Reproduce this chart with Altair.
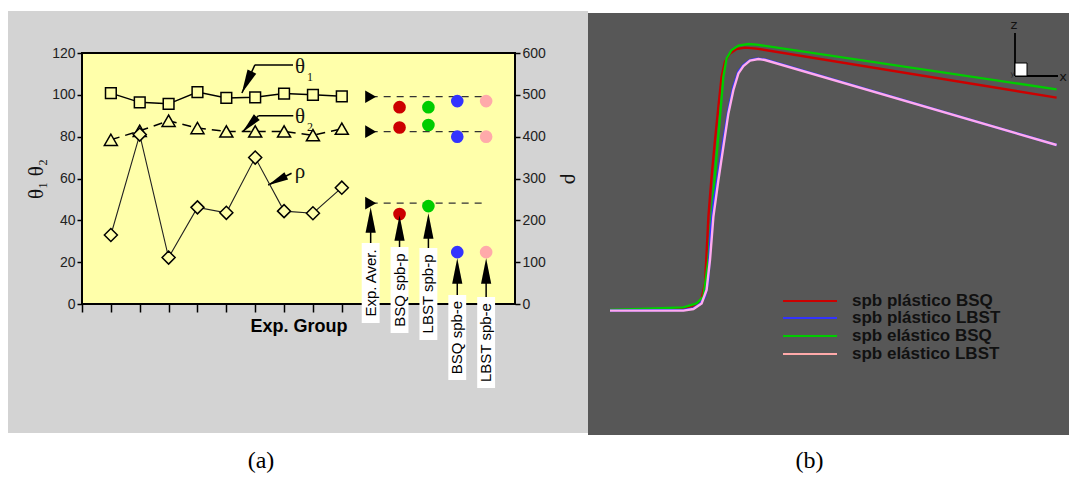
import altair as alt
import pandas as pd

# ---------------- panel (a) data ----------------
groups = [1, 2, 3, 4, 5, 6, 7, 8, 9]
theta1 = [100.8, 96.4, 95.7, 101.3, 98.5, 98.8, 100.6, 100.0, 99.3]
theta2 = [78.5, 82.8, 87.6, 84.1, 82.5, 82.5, 82.5, 80.7, 83.8]
rho = [165, 405, 111, 231, 218, 350, 222, 217, 278]

cases = ["Exp. Aver.", "BSQ spb-p", "LBST spb-p", "BSQ spb-e", "LBST spb-e"]
case_pos = [10, 11, 12, 13, 14]
case_theta1 = [99.1, 94.1, 94.1, 97.0, 97.0]
case_theta2 = [82.4, 84.4, 85.6, 80.0, 80.0]
case_rho = [241, 215, 234, 124, 124]
case_colors = ["black", "#cc0000", "#00cc00", "#3333ff", "#ffaaaa"]

theta_ticks = [0, 20, 40, 60, 80, 100, 120]
rho_ticks = [0, 100, 200, 300, 400, 500, 600]
group_ticks = [0, 1, 2, 3, 4, 5, 6, 7, 8, 9]

# ---------------- panel (b) data ----------------
series_names = ["spb plástico BSQ", "spb plástico LBST", "spb elástico BSQ", "spb elástico LBST"]
series_colors = ["#cc0000", "#3333ff", "#00cc00", "#ffaaee"]
legend_colors = ["#cc0000", "#3333ff", "#00cc00", "#ffaaaa"]
red_x = [0, 36.7, 40, 43.3, 45.8, 47.5, 48.3, 49.2, 50.8, 52.5, 54.2, 55.8, 57.5, 60, 63.3, 67.5, 73.3, 223.3]
red_z = [0.2, 1.3, 2.2, 3.5, 6.3, 13.8, 28.8, 47.2, 67.2, 85.5, 102.2, 117.2, 124.7, 128.8, 131, 131.7, 131.2, 106.7]
blue_x = [0, 36.7, 41.7, 45, 47.5, 49.2, 50.3, 52, 54.2, 56.7, 59.2, 61.7, 64.2, 66.7, 70, 73.3, 77.5, 223.3]
blue_z = [0.2, 0.5, 1.3, 3.5, 7.2, 15.5, 38.8, 55.5, 68.8, 85.5, 100.5, 112.2, 119.7, 123, 125.5, 126.2, 125.8, 83]
green_x = [0, 36.7, 43.3, 46.7, 49.2, 50.8, 52.5, 55, 56.7, 58.3, 60.8, 64.2, 69.2, 73.3, 223.3]
green_z = [0.5, 1.8, 3.8, 7.2, 25.5, 47.2, 68.8, 97.2, 117.2, 126.3, 130.5, 132.7, 133.5, 133.2, 110.8]
pink_x = [0, 36.7, 41.7, 45.8, 48.3, 50, 51.7, 54.2, 56.7, 59.2, 61.7, 64.2, 66.7, 70, 74.2, 77.5, 223.3]
pink_z = [0.2, 0.2, 1, 3.8, 10.5, 25.5, 47.2, 65.5, 82.2, 98.8, 110.5, 118.8, 122.5, 125.2, 126, 125.5, 83]

# ---------------- annotation geometry (data units) ----------------
dash_end = 14.05
head_center_rho = [200.8, 181.6, 186.4, 79, 79]
box_top = [145.8, 136.3, 133.9, 21.5, 16.7]
box_bottom = [-45.4, -69.3, -86.0, -181.7, -200.8]
box_half = 0.31

SANS = "Liberation Sans"
SERIF = "Liberation Serif"
YEL = "#ffffaa"
ARROW = "M0,-1L0.4,1L-0.4,1Z"

xs = alt.Scale(domain=[0, 15], nice=False, zero=False)
ts = alt.Scale(domain=[0, 120], nice=False, zero=False)
rs = alt.Scale(domain=[0, 600], nice=False, zero=False)

x_axis = alt.Axis(values=group_ticks, labels=False, tickSize=8, tickWidth=1.5, tickColor="black",
                  domain=False, grid=False, title="Exp. Group", titleFont=SANS, titleFontSize=18,
                  titleFontWeight="bold", titleColor="black", titlePadding=5, zindex=1)
t_axis = alt.Axis(orient="left", values=theta_ticks, tickSize=5, tickWidth=1.5, tickColor="black",
                  domain=False, grid=False, labelFont=SANS, labelFontSize=14, labelColor="#222",
                  labelPadding=2, title="θ₁ θ₂", titleFont=SERIF, titleFontSize=21,
                  titleFontWeight="normal", titleColor="#111", titlePadding=5, zindex=1)
r_axis = alt.Axis(orient="right", values=rho_ticks, tickSize=5, tickWidth=1.5, tickColor="black",
                  domain=False, grid=False, labelFont=SANS, labelFontSize=14, labelColor="#222",
                  labelPadding=2, title="ρ", titleFont=SERIF, titleFontSize=22,
                  titleFontWeight="normal", titleColor="#111", titlePadding=14, zindex=1)


def X(f):
    return alt.X(f, type="quantitative", scale=xs, axis=x_axis)


def YT(f):
    return alt.Y(f, type="quantitative", scale=ts, axis=t_axis)


def YR(f):
    return alt.Y(f, type="quantitative", scale=rs, axis=r_axis)


gdf = pd.DataFrame({"g": groups, "t1": theta1, "t2": theta2, "rho": rho})
cdf = pd.DataFrame({"case": cases, "pos": case_pos, "t1": case_theta1, "t2": case_theta2,
                    "rho": case_rho, "color": case_colors, "end": dash_end,
                    "hc": head_center_rho, "btop": box_top, "bbot": box_bottom})
cdf["bx1"] = cdf["pos"] - box_half
cdf["bx2"] = cdf["pos"] + box_half
cdf["tmid"] = (cdf["btop"] + cdf["bbot"]) / 2
exp_df = cdf.iloc[:1]
mod_df = cdf.iloc[1:]

# ---- theta layers ----
bg = pd.DataFrame({"x1": [-2.6], "x2": [17.53], "y1": [-61.7], "y2": [140.1]})
gray = alt.Chart(bg).mark_rect(color="#d3d3d3").encode(x=X("x1"), x2="x2", y=YT("y1"), y2="y2")
fr = pd.DataFrame({"x1": [0], "x2": [15], "y1": [0], "y2": [120]})
frame = alt.Chart(fr).mark_rect(fill=YEL, stroke="black", strokeWidth=2).encode(
    x=X("x1"), x2="x2", y=YT("y1"), y2="y2")

l1 = alt.Chart(gdf).mark_line(color="black", strokeWidth=1.5).encode(x=X("g"), y=YT("t1"))
p1 = alt.Chart(gdf).mark_point(shape="square", size=115, filled=True, fill=YEL, stroke="black",
                               strokeWidth=1.5, opacity=1).encode(x=X("g"), y=YT("t1"))
l2 = alt.Chart(gdf).mark_line(color="black", strokeWidth=1.5, strokeDash=[9, 6]).encode(x=X("g"), y=YT("t2"))
p2 = alt.Chart(gdf).mark_point(shape="triangle-up", size=170, filled=True, fill=YEL, stroke="black",
                               strokeWidth=1.5, opacity=1).encode(x=X("g"), y=YT("t2"))

dash_t = alt.Chart(exp_df).transform_fold(["t1", "t2"], as_=["k", "v"]).mark_rule(
    color="#333", strokeWidth=1.2, strokeDash=[7, 6]).encode(x=X("pos"), x2="end", y=YT("v:Q"))
exp_t = alt.Chart(exp_df).transform_fold(["t1", "t2"], as_=["k", "v"]).mark_point(
    shape="triangle-right", size=160, filled=True, color="black", opacity=1).encode(x=X("pos"), y=YT("v:Q"))
mod_t = alt.Chart(mod_df).transform_fold(["t1", "t2"], as_=["k", "v"]).mark_circle(
    size=160, opacity=1).encode(x=X("pos"), y=YT("v:Q"), color=alt.Color("color:N", scale=None))

# pointer arrows for the series labels
hl = pd.DataFrame({"x1": [5.99, 6.11], "x2": [7.31, 7.32], "y": [114.3, 90.0]})
hlines = alt.Chart(hl).mark_rule(color="black", strokeWidth=1.5).encode(x=X("x1"), x2="x2", y=YT("y"))
dg = pd.DataFrame({"x1": [5.99, 6.11, 7.26], "y1": [114.3, 90.0, 62.5],
                   "x2": [5.54, 5.57, 6.45], "y2": [100.9, 82.4, 56.9]})
diag = alt.Chart(dg).mark_rule(color="black", strokeWidth=1.5).encode(x=X("x1"), x2="x2", y=YT("y1"), y2="y2")
hd = pd.DataFrame({"x": [5.71, 5.81, 6.76], "y": [105.9, 85.8, 59.0], "ang": [205, 224, 243],
                   "sz": [576, 420, 420]})
heads = alt.Chart(hd).mark_point(shape=ARROW, filled=True, color="black", opacity=1, strokeWidth=0).encode(
    x=X("x"), y=YT("y"), angle=alt.Angle("ang:Q", scale=None), size=alt.Size("sz:Q", scale=None))
big = pd.DataFrame({"t": ["θ", "θ", "ρ"], "x": [7.55, 7.55, 7.55], "y": [113.3, 89.4, 63.1]})
big_txt = alt.Chart(big).mark_text(font=SERIF, fontSize=21, color="#111").encode(x=X("x"), y=YT("y"), text="t:N")
sub = pd.DataFrame({"t": ["1", "2"], "x": [7.9, 7.9], "y": [108.6, 84.8]})
sub_txt = alt.Chart(sub).mark_text(font=SERIF, fontSize=12, color="#111").encode(x=X("x"), y=YT("y"), text="t:N")

cap = pd.DataFrame({"t": ["(a)", "(b)"], "x": [6.2, 25.2], "y": [-78.2, -78.2]})
caps = alt.Chart(cap).mark_text(font=SERIF, fontSize=24, color="black", baseline="alphabetic").encode(
    x=X("x"), y=YT("y"), text="t:N")

theta_layer = alt.layer(gray, frame, l1, l2, p1, p2, dash_t, exp_t, mod_t, hlines, diag, heads,
                        big_txt, sub_txt, caps)

# ---- rho layers ----
lr = alt.Chart(gdf).mark_line(color="#222", strokeWidth=1.1).encode(x=X("g"), y=YR("rho"))
pr = alt.Chart(gdf).mark_point(shape="diamond", size=170, filled=True, fill=YEL, stroke="black",
                               strokeWidth=1.5, opacity=1).encode(x=X("g"), y=YR("rho"))
dash_r = alt.Chart(exp_df).mark_rule(color="#333", strokeWidth=1.2, strokeDash=[7, 6]).encode(
    x=X("pos"), x2="end", y=YR("rho"))
exp_r = alt.Chart(exp_df).mark_point(shape="triangle-right", size=160, filled=True, color="black",
                                     opacity=1).encode(x=X("pos"), y=YR("rho"))
mod_r = alt.Chart(mod_df).mark_circle(size=160, opacity=1).encode(
    x=X("pos"), y=YR("rho"), color=alt.Color("color:N", scale=None))
shafts = alt.Chart(cdf).mark_rule(color="black", strokeWidth=1.5).encode(x=X("pos"), y=YR("btop"), y2="hc")
vheads = alt.Chart(cdf).mark_point(shape=ARROW, filled=True, color="black", opacity=1, strokeWidth=0,
                                   size=650).encode(x=X("pos"), y=YR("hc"))
boxes = alt.Chart(cdf).mark_rect(color="white").encode(x=X("bx1"), x2="bx2", y=YR("bbot"), y2="btop")
btxt = alt.Chart(cdf).mark_text(font=SANS, fontSize=15, color="black", angle=270, align="center",
                                baseline="middle").encode(x=X("pos"), y=YR("tmid"), text="case:N")

rho_layer = alt.layer(lr, pr, dash_r, exp_r, mod_r, shafts, vheads, boxes, btxt)

left = alt.layer(theta_layer, rho_layer).resolve_scale(y="independent")

# ---------------- panel (b) ----------------
rx = alt.Scale(domain=[0, 200], range=[528, 928], nice=False, zero=False)
rz = alt.Scale(domain=[0, 100], range=[258, 58], nice=False, zero=False)


def RX(f):
    return alt.X(f, type="quantitative", scale=rx, axis=None)


def RZ(f):
    return alt.Y(f, type="quantitative", scale=rz, axis=None)


dk = pd.DataFrame({"x1": [-11], "x2": [233.5], "y1": [-62], "y2": [149]})
dark = alt.Chart(dk).mark_rect(color="#575757").encode(x=RX("x1"), x2="x2", y=RZ("y1"), y2="y2")

curve_layers = []
for xs_, zs_, col in [(red_x, red_z, series_colors[0]), (green_x, green_z, series_colors[2]),
                      (blue_x, blue_z, series_colors[1]), (pink_x, pink_z, series_colors[3])]:
    d = pd.DataFrame({"x": xs_, "z": zs_, "i": list(range(len(xs_)))})
    curve_layers.append(alt.Chart(d).mark_line(color=col, strokeWidth=2.4, interpolate="linear").encode(
        x=RX("x"), y=RZ("z"), order="i:Q"))

lg = pd.DataFrame({"name": series_names, "color": legend_colors, "z": [5, -3.5, -12.5, -21.5],
                   "x1": 86.5, "x2": 113.5, "xt": 121})
leg_lines = alt.Chart(lg).mark_rule(strokeWidth=2).encode(
    x=RX("x1"), x2="x2", y=RZ("z"), color=alt.Color("color:N", scale=None))
leg_txt = alt.Chart(lg).mark_text(font=SANS, fontSize=17, fontWeight="bold", color="#111", align="left",
                                  baseline="middle").encode(x=RX("xt"), y=RZ("z"), text="name:N")

tri = pd.DataFrame({"x1": [202.5, 202.5], "x2": [202.5, 224], "y1": [139, 117.5], "y2": [117.5, 117.5]})
tri_lines = alt.Chart(tri).mark_rule(color="black", strokeWidth=1.8).encode(
    x=RX("x1"), x2="x2", y=RZ("y1"), y2="y2")
sq = pd.DataFrame({"x1": [202.5], "x2": [208.5], "y1": [117.5], "y2": [124]})
tri_sq = alt.Chart(sq).mark_rect(fill="white", stroke="black", strokeWidth=1).encode(
    x=RX("x1"), x2="x2", y=RZ("y1"), y2="y2")
tl = pd.DataFrame({"t": ["z", "x"], "x": [202, 226.6], "z": [143, 117]})
tri_txt = alt.Chart(tl).mark_text(font="DejaVu Sans", fontSize=13, color="#111").encode(
    x=RX("x"), y=RZ("z"), text="t:N")
tly = pd.DataFrame({"t": ["y"], "x": [201.3], "z": [118.5]})
tri_y = alt.Chart(tly).mark_text(font="DejaVu Sans", fontSize=7, color="#222").encode(
    x=RX("x"), y=RZ("z"), text="t:N")

right = alt.layer(dark, *curve_layers, leg_lines, leg_txt, tri_lines, tri_sq, tri_txt, tri_y)

chart = alt.layer(left, right).resolve_scale(x="independent", y="independent").properties(
    width=433, height=251,
    autosize=alt.AutoSizeParams(type="none"),
    padding={"left": 74, "top": 45, "right": 554, "bottom": 169},
).configure_view(stroke=None).configure(background="white")

chart.save("out.html", embed_options={"renderer": "svg", "actions": False})
